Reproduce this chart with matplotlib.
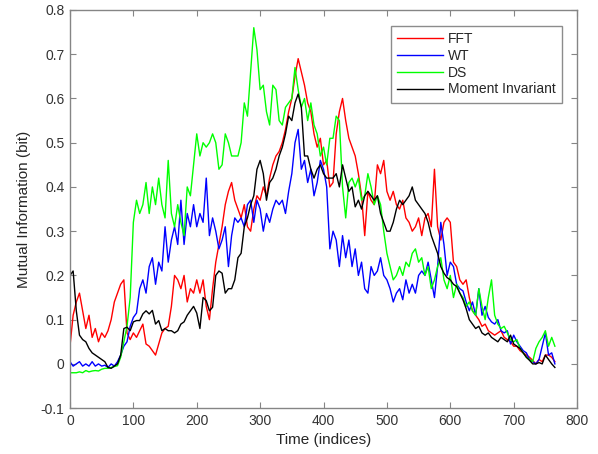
import numpy as np
import matplotlib
matplotlib.use("Agg")
import matplotlib.pyplot as plt

plt.rcParams['font.family'] = ['Liberation Sans', 'DejaVu Sans']

# ---- data (one value every 5 indices) ----
time_idx = list(range(0, 770, 5))

fft = [0.04, 0.11, 0.14, 0.16, 0.12, 0.08, 0.11, 0.06, 0.08, 0.05,
       0.07, 0.06, 0.075, 0.10, 0.14, 0.16, 0.18, 0.19, 0.07, 0.055,
       0.07, 0.06, 0.075, 0.09, 0.045, 0.04, 0.03, 0.02, 0.045, 0.07,
       0.08, 0.085, 0.13, 0.20, 0.19, 0.17, 0.20, 0.14, 0.17, 0.16,
       0.19, 0.16, 0.19, 0.13, 0.10, 0.17, 0.23, 0.27, 0.31, 0.36,
       0.39, 0.41, 0.37, 0.35, 0.33, 0.36, 0.31, 0.30, 0.35, 0.38,
       0.37, 0.40, 0.38, 0.42, 0.45, 0.47, 0.48, 0.50, 0.53, 0.57,
       0.60, 0.65, 0.69, 0.66, 0.63, 0.59, 0.57, 0.52, 0.49, 0.51,
       0.45, 0.46, 0.40, 0.41, 0.52, 0.57, 0.60, 0.55, 0.51, 0.49,
       0.47, 0.43, 0.38, 0.29, 0.39, 0.37, 0.36, 0.45, 0.43, 0.46,
       0.39, 0.37, 0.39, 0.36, 0.35, 0.37, 0.33, 0.32, 0.30, 0.31,
       0.33, 0.29, 0.33, 0.34, 0.31, 0.44, 0.31, 0.28, 0.32, 0.33,
       0.32, 0.23, 0.22, 0.19, 0.18, 0.19, 0.15, 0.12, 0.11, 0.10,
       0.085, 0.09, 0.075, 0.07, 0.065, 0.07, 0.075, 0.06, 0.055, 0.05,
       0.04, 0.04, 0.03, 0.025, 0.02, 0.015, 0.008, 0.0, 0.01, 0.005,
       0.02, 0.02, 0.015, 0.005]

wt = [0.005, -0.005, 0.0, 0.005, -0.005, 0.0, -0.005, 0.005, -0.005, 0.0,
      -0.005, -0.003, -0.008, 0.0, -0.005, 0.005, 0.02, 0.04, 0.05, 0.085,
      0.105, 0.115, 0.17, 0.19, 0.16, 0.22, 0.24, 0.18, 0.23, 0.21,
      0.31, 0.23, 0.28, 0.31, 0.27, 0.37, 0.27, 0.34, 0.31, 0.36,
      0.31, 0.34, 0.32, 0.42, 0.29, 0.33, 0.30, 0.26, 0.28, 0.31,
      0.22, 0.29, 0.33, 0.32, 0.33, 0.31, 0.36, 0.37, 0.32, 0.37,
      0.35, 0.30, 0.34, 0.32, 0.35, 0.37, 0.36, 0.37, 0.34, 0.39,
      0.43, 0.50, 0.53, 0.44, 0.46, 0.41, 0.44, 0.38, 0.41, 0.46,
      0.44, 0.40, 0.26, 0.30, 0.28, 0.22, 0.29, 0.24, 0.28, 0.22,
      0.26, 0.20, 0.23, 0.17, 0.16, 0.22, 0.20, 0.21, 0.24, 0.20,
      0.19, 0.17, 0.14, 0.16, 0.17, 0.145, 0.19, 0.16, 0.18, 0.16,
      0.20, 0.21, 0.20, 0.23, 0.19, 0.15, 0.22, 0.32, 0.27, 0.20,
      0.23, 0.22, 0.18, 0.17, 0.165, 0.14, 0.12, 0.14, 0.11, 0.17,
      0.11, 0.13, 0.105, 0.095, 0.09, 0.10, 0.075, 0.07, 0.075, 0.045,
      0.065, 0.05, 0.04, 0.03, 0.025, 0.01, 0.005, 0.0, 0.01, 0.04,
      0.07, 0.02, 0.025, 0.0]

ds = [-0.02, -0.02, -0.02, -0.018, -0.02, -0.015, -0.018, -0.016, -0.015, -0.016,
      -0.012, -0.01, -0.01, -0.008, -0.006, -0.004, 0.015, 0.05, 0.085, 0.15,
      0.32, 0.37, 0.34, 0.36, 0.41, 0.34, 0.40, 0.36, 0.42, 0.36,
      0.33, 0.46, 0.34, 0.31, 0.36, 0.32, 0.29, 0.40, 0.38, 0.45,
      0.52, 0.47, 0.50, 0.49, 0.50, 0.52, 0.50, 0.44, 0.45, 0.52,
      0.50, 0.47, 0.47, 0.47, 0.50, 0.59, 0.56, 0.66, 0.76, 0.71,
      0.62, 0.63, 0.57, 0.54, 0.63, 0.62, 0.55, 0.54, 0.58, 0.59,
      0.60, 0.67, 0.62, 0.58, 0.60, 0.55, 0.59, 0.54, 0.52, 0.47,
      0.49, 0.45, 0.51, 0.51, 0.56, 0.55, 0.40, 0.33, 0.41, 0.42,
      0.40, 0.42, 0.37, 0.38, 0.43, 0.40, 0.36, 0.38, 0.36, 0.30,
      0.25, 0.22, 0.19, 0.20, 0.22, 0.20, 0.23, 0.22, 0.25, 0.26,
      0.23, 0.24, 0.20, 0.22, 0.17, 0.19, 0.22, 0.24, 0.19, 0.17,
      0.20, 0.15, 0.18, 0.16, 0.15, 0.13, 0.14, 0.12, 0.11, 0.17,
      0.13, 0.10, 0.15, 0.19, 0.11, 0.09, 0.08, 0.085, 0.07, 0.055,
      0.05, 0.055, 0.035, 0.025, 0.015, 0.01, 0.005, 0.035, 0.05, 0.06,
      0.075, 0.04, 0.06, 0.04]

moment_inv = [0.20, 0.21, 0.12, 0.065, 0.055, 0.05, 0.035, 0.025, 0.02, 0.015,
              0.01, 0.005, -0.008, -0.01, -0.005, 0.0, 0.02, 0.08, 0.083, 0.075,
              0.095, 0.098, 0.098, 0.113, 0.12, 0.113, 0.121, 0.09, 0.098, 0.075,
              0.08, 0.075, 0.075, 0.07, 0.075, 0.09, 0.095, 0.11, 0.12, 0.13,
              0.115, 0.08, 0.15, 0.143, 0.12, 0.128, 0.20, 0.21, 0.205, 0.16,
              0.17, 0.17, 0.19, 0.24, 0.25, 0.31, 0.33, 0.36, 0.38, 0.44,
              0.46, 0.43, 0.37, 0.41, 0.42, 0.44, 0.47, 0.49, 0.52, 0.56,
              0.55, 0.59, 0.61, 0.58, 0.47, 0.47, 0.44, 0.42, 0.44, 0.45,
              0.43, 0.42, 0.42, 0.42, 0.43, 0.40, 0.45, 0.42, 0.39, 0.40,
              0.355, 0.37, 0.35, 0.38, 0.39, 0.38, 0.37, 0.38, 0.34, 0.32,
              0.30, 0.30, 0.32, 0.35, 0.37, 0.36, 0.37, 0.38, 0.40, 0.37,
              0.36, 0.35, 0.34, 0.32, 0.29, 0.27, 0.25, 0.22, 0.205, 0.195,
              0.19, 0.18, 0.175, 0.16, 0.145, 0.125, 0.10, 0.09, 0.08, 0.085,
              0.07, 0.065, 0.07, 0.06, 0.055, 0.05, 0.06, 0.055, 0.05, 0.065,
              0.045, 0.04, 0.035, 0.025, 0.015, 0.008, 0.0, 0.0, 0.003, 0.0,
              0.02, 0.01, 0.0, -0.008]

series_names = ['FFT', 'WT', 'DS', 'Moment Invariant']
series_colors = ['#ff0000', '#0000ff', '#00ff00', '#000000']

x_ticks = [0, 100, 200, 300, 400, 500, 600, 700, 800]
y_ticks = [-0.1, 0, 0.1, 0.2, 0.3, 0.4, 0.5, 0.6, 0.7, 0.8]
y_tick_labels = ['-0.1', '0', '0.1', '0.2', '0.3', '0.4', '0.5', '0.6', '0.7', '0.8']

# ---- figure ----
fig = plt.figure(figsize=(5.98, 4.54), dpi=100)
ax = fig.add_axes([0.117, 0.101, 0.848, 0.877])

for vals, name, col in zip([fft, wt, ds, moment_inv], series_names, series_colors):
    ax.plot(time_idx, vals, color=col, lw=1.0, label=name)

ax.set_xlim(0, 800)
ax.set_ylim(-0.1, 0.8)
ax.set_xticks(x_ticks)
ax.set_xticklabels([str(t) for t in x_ticks])
ax.set_yticks(y_ticks)
ax.set_yticklabels(y_tick_labels)

spine_col = '#858585'
for s in ax.spines.values():
    s.set_color(spine_col)
    s.set_linewidth(1.0)
ax.tick_params(direction='in', length=4, width=0.8, color=spine_col,
               top=True, right=True, labelsize=10, labelcolor='#333333', pad=4)

ax.set_xlabel('Time (indices)', fontsize=11, color='#262626', labelpad=4)
ax.set_ylabel('Mutual Information (bit)', fontsize=11, color='#262626', labelpad=7)

leg = ax.legend(loc='upper right', bbox_to_anchor=(0.970, 0.960), fontsize=10,
                frameon=True, fancybox=False, handlelength=3.3, handletextpad=0.35,
                borderpad=0.45, labelspacing=0.2, borderaxespad=0.0)
leg.get_frame().set_edgecolor('#707070')
leg.get_frame().set_linewidth(1.0)
for t in leg.get_texts():
    t.set_color('#262626')

fig.savefig('out.png', dpi=100)
